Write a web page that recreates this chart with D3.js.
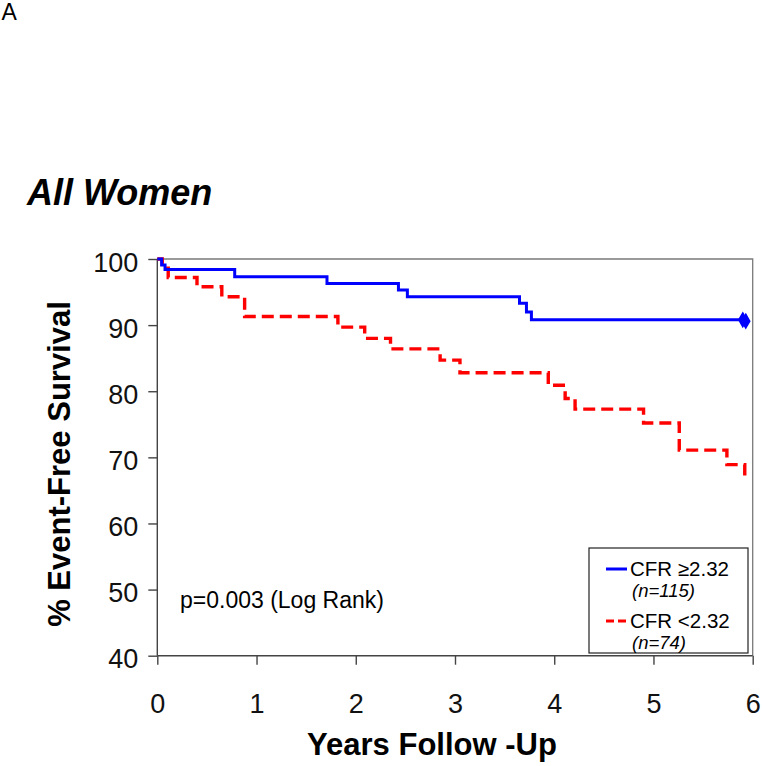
<!DOCTYPE html>
<html>
<head>
<meta charset="utf-8">
<script src="https://cdn.jsdelivr.net/npm/d3@7"></script>
<style>
  html, body { margin: 0; padding: 0; background: #fff; }
  svg { display: block; font-family: "Liberation Sans", Arial, sans-serif; }
</style>
</head>
<body>
<svg id="chart" width="762" height="766"></svg>
<script>
// ---- data ----
const xTicks = [0, 1, 2, 3, 4, 5, 6];
const yTicks = [40, 50, 60, 70, 80, 90, 100];
const blueTimes = [0, 0.044, 0.078, 0.78, 1.71, 2.43, 2.52, 3.65, 3.72, 3.77, 5.94];
const blueSurv  = [100, 99.1, 98.4, 97.3, 96.3, 95.3, 94.3, 93.3, 92.0, 90.8, 90.8];
const redTimes  = [0, 0.05, 0.11, 0.40, 0.65, 0.88, 1.82, 2.09, 2.35, 2.85, 3.05, 3.94, 4.11, 4.21, 4.90, 5.26, 5.74, 5.92];
const redSurv   = [100, 98.6, 97.2, 95.8, 94.3, 91.3, 89.7, 88.0, 86.4, 84.7, 82.8, 80.9, 78.9, 77.3, 75.2, 71.1, 68.9, 66.8];
const censorTimes = [5.90, 5.93];
const censorSurv  = [90.8, 90.6];
const legendLabels = ["CFR \u22652.32", "CFR <2.32"];
const legendN = ["(n=115)", "(n=74)"];

// ---- layout ----
const svg = d3.select("#chart");
const x = d3.scaleLinear().domain([0, 6]).range([157.3, 752.7]);
const y = d3.scaleLinear().domain([40, 100]).range([655.7, 259]);

// panel letter and title
svg.append("text").attr("x", 1.5).attr("y", 19.5).attr("font-size", 23).text("A");
svg.append("text").attr("x", 27).attr("y", 205).attr("font-size", 36)
  .attr("font-weight", "bold").attr("font-style", "italic").text("All Women");

// frame top/right
svg.append("path")
  .attr("d", `M${x(0)},${y(100)}H${x(6)}V${y(40)}`)
  .attr("fill", "none").attr("stroke", "#7a7a7a").attr("stroke-width", 1.3);

// axes
const xAxis = d3.axisBottom(x).tickValues(xTicks).tickSize(9).tickPadding(29).tickFormat(d3.format("d"));
const yAxis = d3.axisLeft(y).tickValues(yTicks).tickSize(9).tickPadding(10).tickFormat(d3.format("d"));
const gx = svg.append("g").attr("transform", `translate(0,${y(40)})`).call(xAxis);
const gy = svg.append("g").attr("transform", `translate(${x(0)},0)`).call(yAxis);
[gx, gy].forEach(g => {
  g.select(".domain").attr("stroke", "#444").attr("stroke-width", 1.4);
  g.selectAll(".tick line").attr("stroke", "#444").attr("stroke-width", 1.4);
  g.selectAll(".tick text").attr("font-size", 27).attr("fill", "#111")
    .attr("font-family", "Liberation Sans, Arial, sans-serif");
});
gy.selectAll(".tick text").attr("dy", "0.45em");
gx.select(".domain").attr("d", `M${x(0)},0H${x(6)}`);
gy.select(".domain").attr("d", `M0,${y(40)}V${y(100)}`);

// axis titles
svg.append("text").attr("x", 432).attr("y", 755).attr("text-anchor", "middle")
  .attr("font-size", 31).attr("font-weight", "bold").text("Years Follow -Up");
svg.append("text").attr("transform", "translate(70,464) rotate(-90)")
  .attr("text-anchor", "middle").attr("font-size", 31).attr("font-weight", "bold")
  .text("% Event-Free Survival");

// curves
const line = d3.line().x(d => x(d[0])).y(d => y(d[1])).curve(d3.curveStepAfter);
const blue = blueTimes.map((t, i) => [t, blueSurv[i]]);
const red = redTimes.map((t, i) => [t, redSurv[i]]);
svg.append("path").datum(red).attr("d", line).attr("fill", "none")
  .attr("stroke", "#ff0000").attr("stroke-width", 3.4).attr("stroke-dasharray", "12,6");
svg.append("path").datum(blue).attr("d", line).attr("fill", "none")
  .attr("stroke", "#0000ff").attr("stroke-width", 3);
svg.selectAll(".censor").data(censorTimes).enter().append("path")
  .attr("class", "censor")
  .attr("transform", (d, i) => `translate(${x(d)},${y(censorSurv[i])})`)
  .attr("d", d3.symbol().type(d3.symbolDiamond).size(55))
  .attr("fill", "#0000ff").attr("stroke", "#0000ff").attr("stroke-width", 1.5);

// p value
svg.append("text").attr("x", 180).attr("y", 608).attr("font-size", 23).text("p=0.003 (Log Rank)");

// legend
const lg = svg.append("g");
lg.append("rect").attr("x", 589).attr("y", 548).attr("width", 159).attr("height", 105)
  .attr("fill", "#fff").attr("stroke", "#222").attr("stroke-width", 1.2);
const colors = ["#0000ff", "#ff0000"];
const dashes = [null, "8,4"];
const rowY = [569, 621];
legendLabels.forEach((lab, i) => {
  lg.append("line").attr("x1", 606).attr("x2", 627).attr("y1", rowY[i]).attr("y2", rowY[i])
    .attr("stroke", colors[i]).attr("stroke-width", 3).attr("stroke-dasharray", dashes[i]);
  lg.append("text").attr("x", 630).attr("y", rowY[i] + 7).attr("font-size", 20.5).text(lab);
  lg.append("text").attr("x", 632).attr("y", rowY[i] + 28).attr("font-size", 18.5)
    .attr("font-style", "italic").text(legendN[i]);
});
</script>
</body>
</html>
